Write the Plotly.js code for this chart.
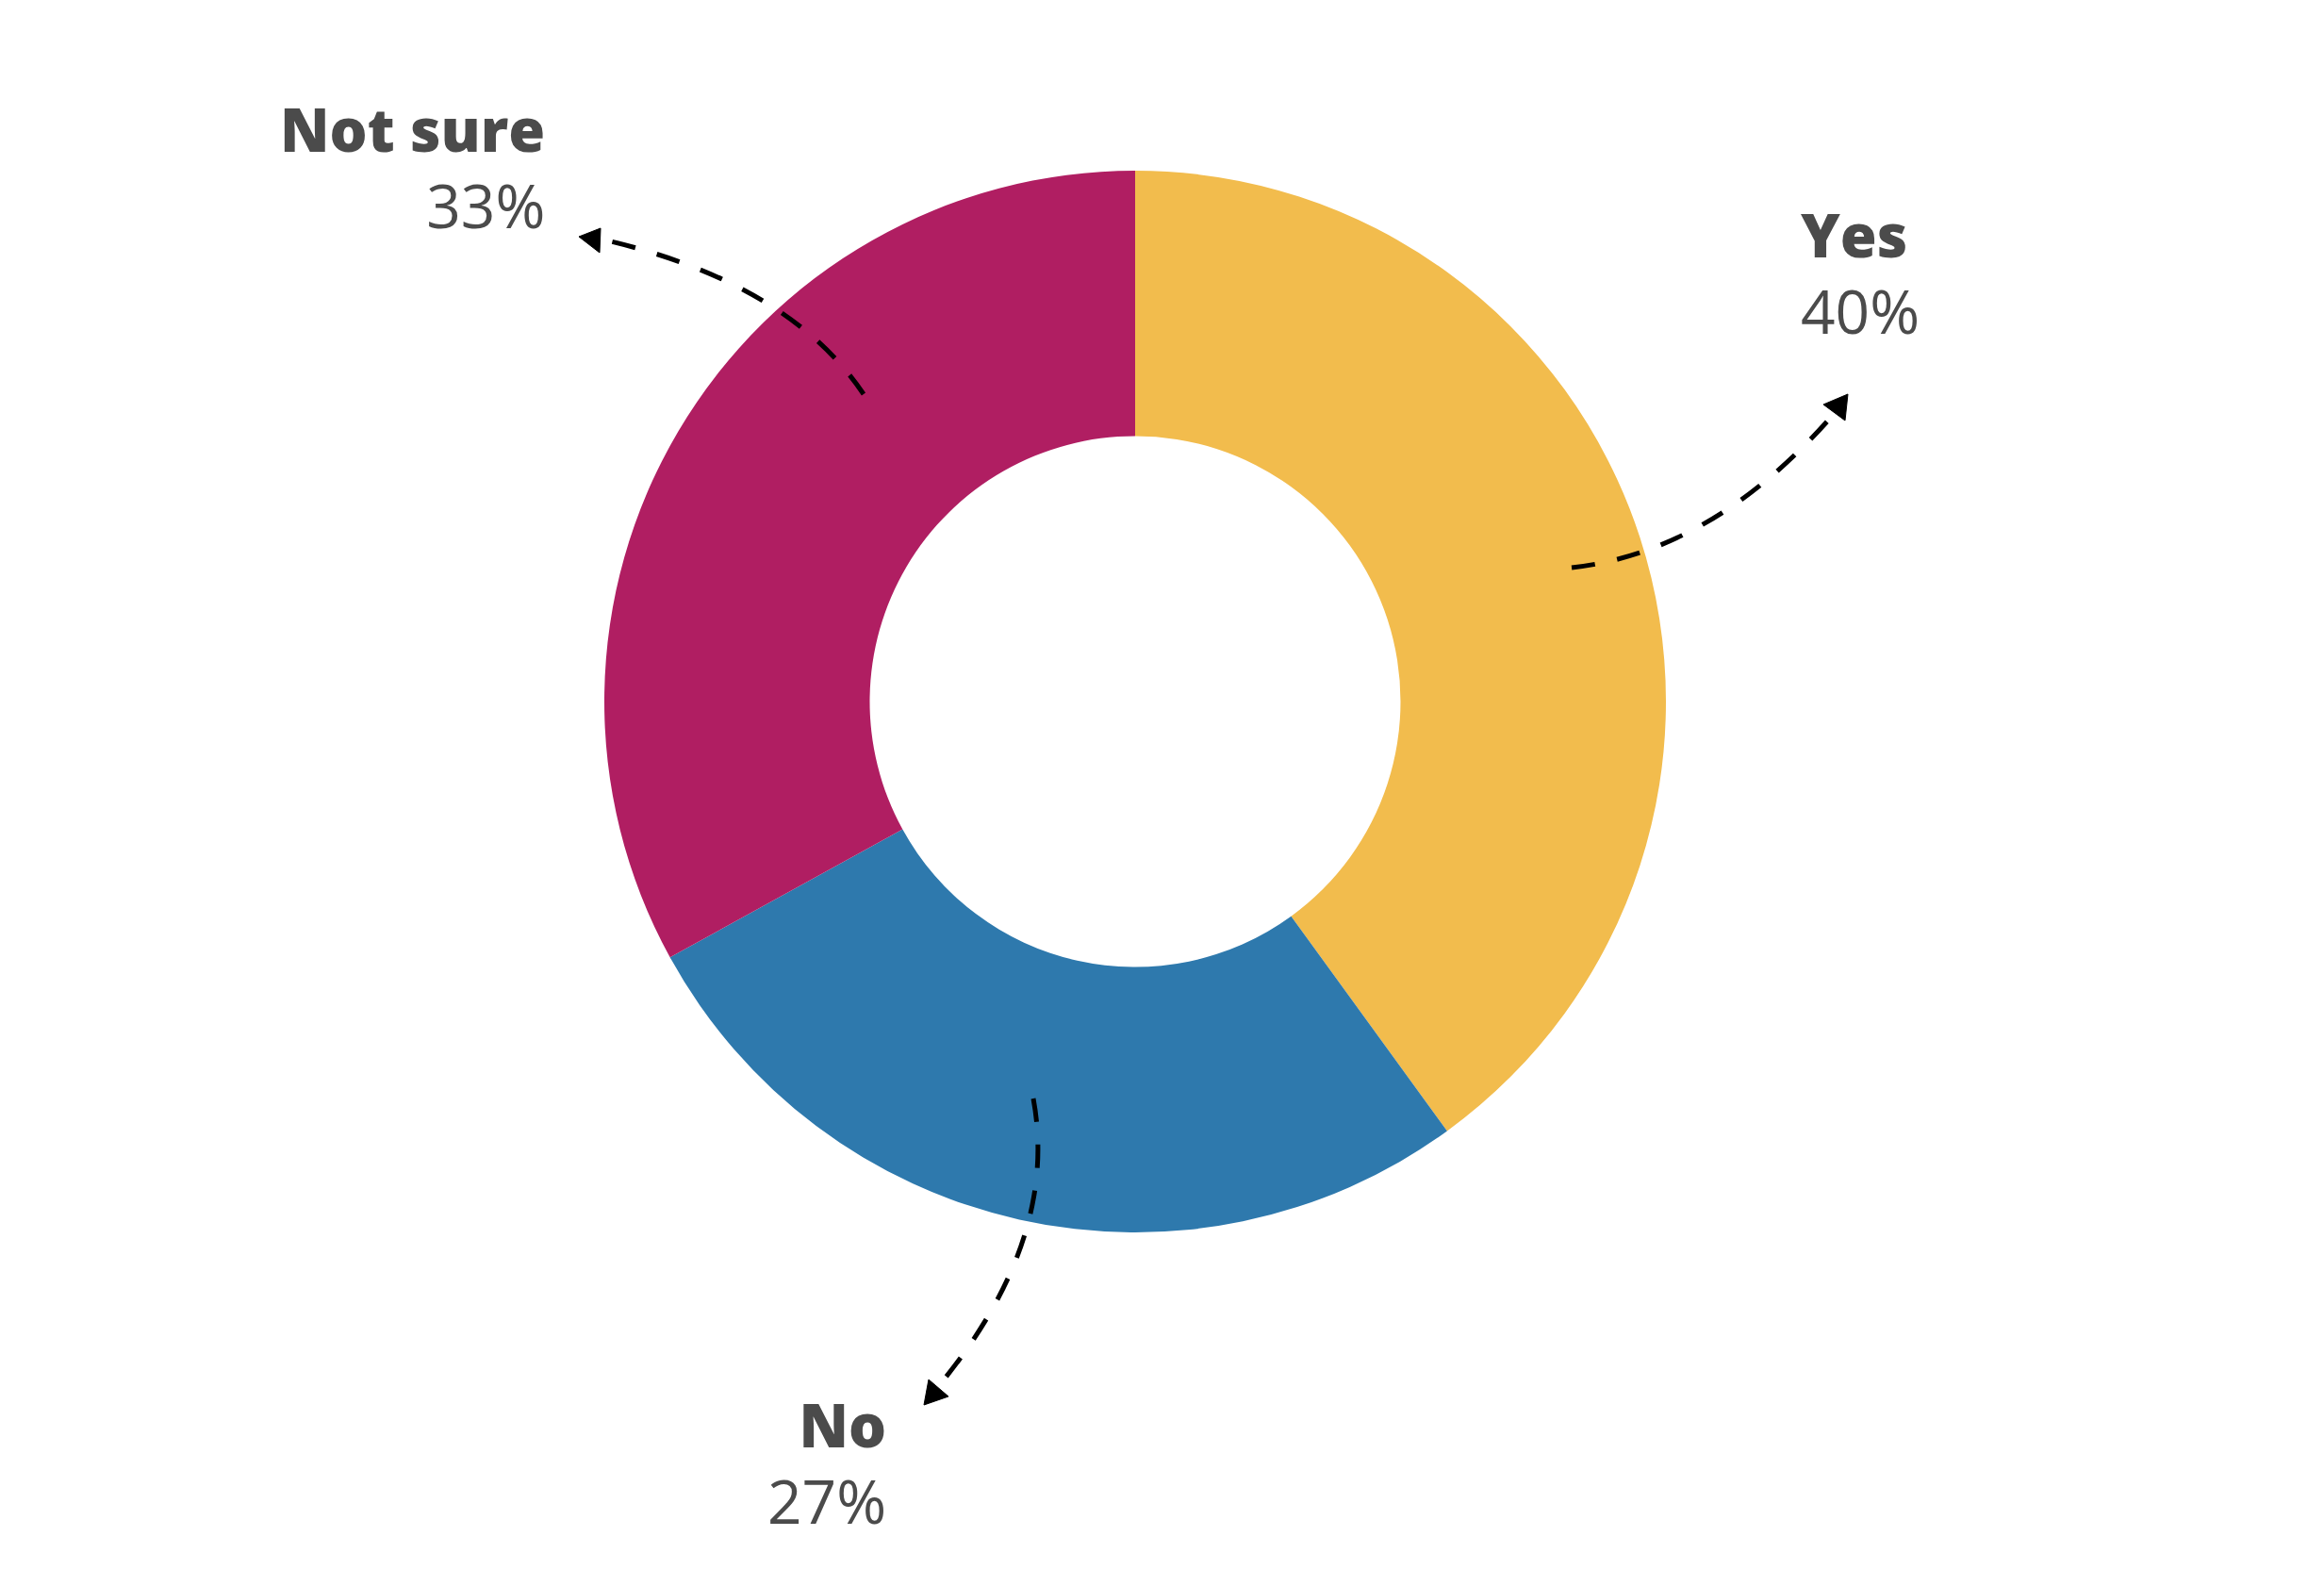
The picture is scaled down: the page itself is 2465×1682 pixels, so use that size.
<!DOCTYPE html>
<html>
<head>
<meta charset="utf-8">
<script src="https://cdn.plot.ly/plotly-3.0.1.min.js"></script>
<style>
  html, body { margin: 0; padding: 0; background: #ffffff; }
  #chart { width: 2465px; height: 1682px; }
</style>
</head>
<body>
<div id="chart"></div>
<script>
// ---- data ----
const categories = ["Yes", "No", "Not sure"];
const shares = [40, 27, 33];
const pctLabels = ["40%", "27%", "33%"];
const sliceColors = ["#F2BC4D", "#2E79AD", "#B01E62"];

// ---- page geometry ----
const W = 2465, H = 1682;
const px = (x) => x / W;
const py = (y) => 1 - y / H;
const P = (x, y) => px(x).toFixed(5) + "," + py(y).toFixed(5);

// donut centre (1204, 744), outer radius ~563
const cx = 1204, cy = 744, R = 563;

const trace = {
  type: "pie",
  labels: categories,
  values: shares,
  sort: false,
  direction: "clockwise",
  rotation: 0,
  hole: 0.5,
  textinfo: "none",
  hoverinfo: "label+percent",
  showlegend: false,
  marker: { colors: sliceColors, line: { width: 0 } },
  domain: { x: [px(cx - R), px(cx + R)], y: [py(cy + R), py(cy - R)] }
};

// ---- label placement (pixel anchors, block-centre y) ----
const labelPos = {
  "Yes":      { x: 1908, xanchor: "left",  y: 289.5 },
  "No":       { x: 942,  xanchor: "right", y: 1551.5 },
  "Not sure": { x: 580,  xanchor: "right", y: 177 }
};

const textColor = "#4B4B4B";
const annotations = categories.map((c, i) => {
  const p = labelPos[c];
  return {
    xref: "paper", yref: "paper", x: px(p.x), y: py(p.y),
    xanchor: p.xanchor, yanchor: "middle", align: p.xanchor, showarrow: false,
    text: '<span style="font-weight:800;font-size:63px">' + c + '</span><br>' +
          '<span style="font-weight:400;font-size:64px">' + pctLabels[i] + '</span>',
    font: { family: "'Open Sans', Lato, sans-serif", size: 62, color: textColor, weight: 400 }
  };
});

// ---- dashed curved pointers with arrowheads ----
const arrows = [
  { start: [1667, 602], ctrl: [1813, 586], end: [1938, 447], head: [[1960, 418], [1934, 429], [1957, 446]] },
  { start: [1096, 1165], ctrl: [1123, 1311], end: [1002, 1462], head: [[980, 1490], [985, 1463], [1006, 1481]] },
  { start: [916, 418], ctrl: [838, 302], end: [648, 256], head: [[614, 251], [637, 242], [636, 268]] }
];

const shapes = [];
arrows.forEach(a => {
  shapes.push({
    type: "path", xref: "paper", yref: "paper",
    path: "M" + P(a.start[0], a.start[1]) + " Q" + P(a.ctrl[0], a.ctrl[1]) + " " + P(a.end[0], a.end[1]),
    line: { color: "#000000", width: 5, dash: "25px,24px" },
    fillcolor: "rgba(0,0,0,0)"
  });
  shapes.push({
    type: "path", xref: "paper", yref: "paper",
    path: "M" + P(a.head[0][0], a.head[0][1]) + " L" + P(a.head[1][0], a.head[1][1]) + " L" + P(a.head[2][0], a.head[2][1]) + " Z",
    line: { color: "#000000", width: 1 },
    fillcolor: "#000000"
  });
});

const layout = {
  width: W, height: H,
  margin: { l: 0, r: 0, t: 0, b: 0, pad: 0 },
  paper_bgcolor: "#ffffff",
  plot_bgcolor: "#ffffff",
  showlegend: false,
  annotations: annotations,
  shapes: shapes
};

Plotly.newPlot("chart", [trace], layout, { displayModeBar: false, staticPlot: true });
</script>
</body>
</html>
